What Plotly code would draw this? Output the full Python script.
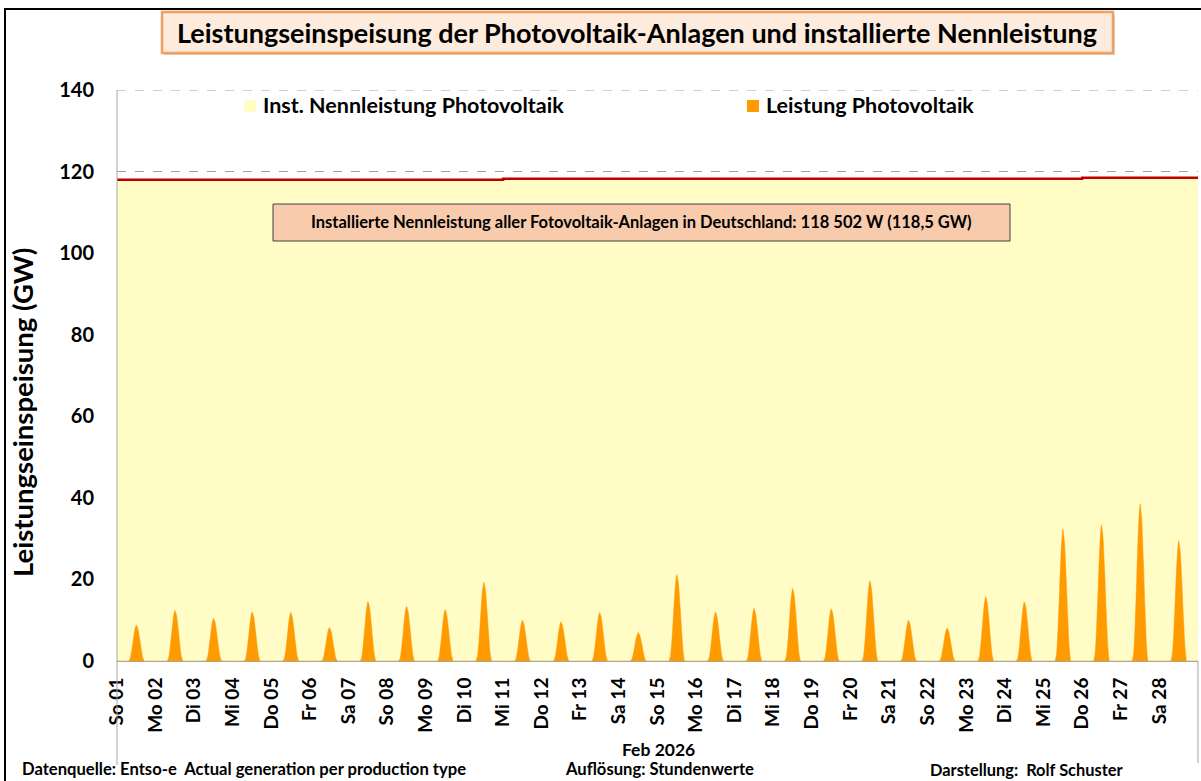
import pandas as pd
import plotly.graph_objects as go

# ---------------- data ----------------
day_labels = ["So 01", "Mo 02", "Di 03", "Mi 04", "Do 05", "Fr 06", "Sa 07", "So 08", "Mo 09", "Di 10",
              "Mi 11", "Do 12", "Fr 13", "Sa 14", "So 15", "Mo 16", "Di 17", "Mi 18", "Do 19", "Fr 20",
              "Sa 21", "So 22", "Mo 23", "Di 24", "Mi 25", "Do 26", "Fr 27", "Sa 28"]

# PV output (GW) for hours 08..16 of each day (other hours ~0)
pv_daylight_hours = [8, 9, 10, 11, 12, 13, 14, 15, 16]
pv_hourly = [
    [0.4, 2.2, 4.8, 7.5, 8.8, 7.9, 5.7, 3.1, 0.9],
    [0.6, 3.1, 6.8, 10.5, 12.4, 11.2, 8.1, 4.3, 1.2],
    [0.5, 2.6, 5.8, 8.9, 10.5, 9.5, 6.8, 3.7, 1.1],
    [0.6, 3.0, 6.6, 10.2, 12.0, 10.8, 7.8, 4.2, 1.2],
    [0.6, 2.9, 6.5, 10.1, 11.9, 10.7, 7.7, 4.2, 1.2],
    [0.4, 2.1, 4.5, 7.0, 8.2, 7.4, 5.3, 2.9, 0.8],
    [0.7, 3.7, 8.0, 12.4, 14.6, 13.1, 9.5, 5.1, 1.5],
    [0.7, 3.4, 7.4, 11.4, 13.4, 12.1, 8.7, 4.7, 1.3],
    [0.6, 3.2, 6.9, 10.7, 12.6, 11.3, 8.2, 4.4, 1.3],
    [1.0, 4.8, 10.6, 16.4, 19.3, 17.4, 12.5, 6.8, 1.9],
    [0.5, 2.5, 5.5, 8.5, 10.0, 9.0, 6.5, 3.5, 1.0],
    [0.5, 2.4, 5.3, 8.2, 9.6, 8.6, 6.2, 3.4, 1.0],
    [0.6, 3.0, 6.5, 10.1, 11.9, 10.7, 7.7, 4.2, 1.2],
    [0.4, 1.8, 3.9, 6.0, 7.0, 6.3, 4.6, 2.5, 0.7],
    [1.1, 5.3, 11.7, 18.0, 21.2, 19.1, 13.8, 7.4, 2.1],
    [0.6, 3.0, 6.6, 10.2, 12.0, 10.8, 7.8, 4.2, 1.2],
    [0.6, 3.2, 7.1, 11.0, 12.9, 11.6, 8.4, 4.5, 1.3],
    [0.9, 4.5, 9.8, 15.1, 17.8, 16.0, 11.6, 6.2, 1.8],
    [0.6, 3.2, 7.0, 10.9, 12.8, 11.5, 8.3, 4.5, 1.3],
    [1.0, 4.9, 10.8, 16.7, 19.7, 17.7, 12.8, 6.9, 2.0],
    [0.5, 2.5, 5.5, 8.5, 10.0, 9.0, 6.5, 3.5, 1.0],
    [0.4, 2.0, 4.5, 6.9, 8.1, 7.3, 5.3, 2.8, 0.8],
    [0.8, 4.0, 8.7, 13.4, 15.8, 14.2, 10.3, 5.5, 1.6],
    [0.7, 3.6, 8.0, 12.3, 14.5, 13.1, 9.4, 5.1, 1.5],
    [1.6, 8.1, 17.8, 27.5, 32.3, 29.1, 21.0, 11.3, 3.2],
    [1.7, 8.4, 18.4, 28.4, 33.4, 30.1, 21.7, 11.7, 3.3],
    [1.9, 9.6, 21.2, 32.7, 38.5, 34.7, 25.0, 13.5, 3.9],
    [1.5, 7.4, 16.2, 25.1, 29.5, 26.6, 19.2, 10.3, 3.0],
]

# installed nominal PV capacity (GW), per day
capacity_daily = [118.0] * 10 + [118.25] * 15 + [118.5] * 3

y_ticks = [0, 20, 40, 60, 80, 100, 120, 140]

# ---------------- build series ----------------
hours = pd.date_range("2026-02-01 00:00", periods=28 * 24 + 1, freq="h")
pv = [0.0] * len(hours)
for d, vals in enumerate(pv_hourly):
    for h, v in zip(pv_daylight_hours, vals):
        pv[d * 24 + h] = v

days = pd.date_range("2026-02-01", periods=29, freq="D")
cap_y = capacity_daily + [capacity_daily[-1]]

fig = go.Figure()
fig.add_trace(go.Scatter(x=days, y=cap_y, mode="lines", line=dict(color="#C00000", width=2.5, shape="hv"),
                         fill="tozeroy", fillcolor="#FFFCC6", name="Inst. Nennleistung Photovoltaik",
                         showlegend=False, hoverinfo="skip"))
fig.add_trace(go.Scatter(x=hours, y=pv, mode="lines", line=dict(color="#FF9A00", width=0.5, shape="spline", smoothing=0.6),
                         fill="tozeroy", fillcolor="#FF9A00", name="Leistung Photovoltaik", showlegend=False))

L, R, T, B = 117, 1198, 90, 661
W, H = 1201, 781


def px(x):
    return (x - L) / (R - L)


def py(y):
    return (B - y) / (B - T)


FONT = "Lato"
shapes = []
annotations = []


def label(text, x, y, size, xanchor="center", angle=0):
    annotations.append(dict(text="<b>" + text + "</b>", xref="paper", yref="paper", x=px(x), y=py(y),
                            xanchor=xanchor, yanchor="middle", textangle=angle, showarrow=False,
                            font=dict(family=FONT, size=size, color="black")))


def rect(x0, x1, y0, y1, fill, line_color=None, lw=0):
    shapes.append(dict(type="rect", xref="paper", yref="paper", x0=px(x0), x1=px(x1), y0=py(y0), y1=py(y1),
                       line=dict(color=line_color or "rgba(0,0,0,0)", width=lw), fillcolor=fill))


# outer frame
shapes.append(dict(type="rect", xref="paper", yref="paper", x0=px(5), x1=px(1215), y0=py(9), y1=py(800),
                   line=dict(color="black", width=2), fillcolor="rgba(0,0,0,0)", layer="below"))
# top gridline (140)
shapes.append(dict(type="line", xref="paper", yref="y", x0=0, x1=1, y0=y_ticks[-1], y1=y_ticks[-1],
                   line=dict(color="#A0A0A0", width=1, dash="dash")))
# title box with slight shadow
rect(164, 1115, 15, 55, "#D9D0C8")
rect(162, 1113, 12, 53, "#FDEBDD", "#F0A060", 2.5)
label("Leistungseinspeisung der Photovoltaik-Anlagen und installierte Nennleistung", 637, 33, 27)
# legend entries
rect(244, 256, 100, 112, "#FFFCC6")
label("Inst. Nennleistung Photovoltaik", 261, 105, 21.5, "left")
rect(747, 759, 100, 112, "#FF9A00")
label("Leistung Photovoltaik", 764, 105, 21.5, "left")
# info box
rect(273, 1010, 204, 241, "#F8CBAD", "#404040", 1)
label("Installierte Nennleistung aller Fotovoltaik-Anlagen in Deutschland: 118 502 W (118,5 GW)", 641, 222, 16.5)
# plot area extension lines below the x axis
shapes.append(dict(type="line", xref="paper", yref="paper", x0=0, x1=0, y0=1, y1=py(765),
                   line=dict(color="#A6A6A6", width=1)))
shapes.append(dict(type="line", xref="paper", yref="paper", x0=1, x1=1, y0=0, y1=py(763),
                   line=dict(color="#A6A6A6", width=1)))
# axis title, axis label & footers
label("Leistungseinspeisung (GW)", 22, 413, 27.5, angle=-90)
label("Feb 2026", 658, 749, 17.5)
label("Datenquelle: Entso-e  Actual generation per production type", 20, 769, 16.6, "left")
label("Auflösung: Stundenwerte", 563, 769, 16.6, "left")
label("Darstellung:  Rolf Schuster", 928, 769, 16.4, "left")

fig.update_layout(
    width=W, height=H,
    margin=dict(l=L, r=W - R, t=T, b=H - B),
    paper_bgcolor="white", plot_bgcolor="white",
    shapes=shapes, annotations=annotations,
    font=dict(family=FONT, color="black"),
    xaxis=dict(range=[days[0], days[-1]], tickvals=list(days[:28]), ticktext=["<b>%s</b>" % t for t in day_labels],
               tickangle=-90, tickfont=dict(family=FONT, size=19), showgrid=False, zeroline=False,
               showline=True, linecolor="#A6A6A6", linewidth=1, ticks="", ticklabelstandoff=8),
    yaxis=dict(range=[0, 140], tickvals=y_ticks, ticktext=["<b>%d</b>" % v for v in y_ticks],
               tickfont=dict(family=FONT, size=20), showgrid=True, gridcolor="#A0A0A0", griddash="dash",
               gridwidth=1, zeroline=False, showline=False, ticks="", ticklabelstandoff=22),
    hovermode=False,
)

fig.write_html("out.html", config={"displayModeBar": False},
               post_script="document.body.style.margin='0';document.body.style.overflow='hidden';")
